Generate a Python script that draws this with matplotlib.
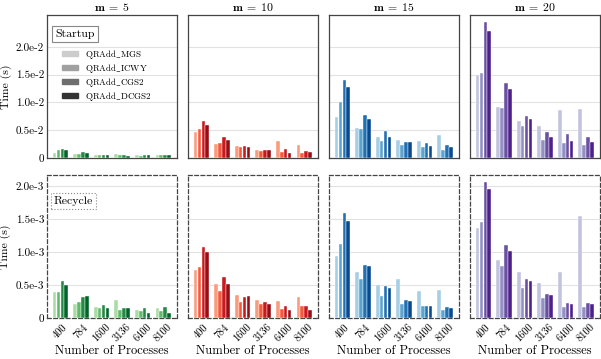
"""
Startup vs recycle timings of the QRAdd variants, one column per m.
"""

import matplotlib

matplotlib.use("Agg")
import matplotlib.pyplot as plt
import numpy as np

plt.rcParams["font.family"] = ["cmr10", "DejaVu Serif"]
plt.rcParams["mathtext.fontset"] = "cm"
plt.rcParams["axes.unicode_minus"] = False

# ---- data ----
procs = ["400", "784", "1600", "3136", "6400", "8100"]
m_values = [5, 10, 15, 20]
methods = ["QRAdd$\\_$MGS", "QRAdd$\\_$ICWY", "QRAdd$\\_$CGS2", "QRAdd$\\_$DCGS2"]

# startup times (s), rows = method, cols = process count
startup_m5 = [
    [0.0010, 0.0007, 0.0005, 0.0008, 0.0005, 0.0006],
    [0.0014, 0.0008, 0.0005, 0.0006, 0.0004, 0.0005],
    [0.0017, 0.0011, 0.0006, 0.0006, 0.0005, 0.0005],
    [0.0014, 0.0009, 0.0006, 0.0004, 0.0005, 0.0006],
]
startup_m10 = [
    [0.0046, 0.0025, 0.0022, 0.0015, 0.0030, 0.0023],
    [0.0052, 0.0027, 0.0019, 0.0013, 0.0011, 0.0010],
    [0.0067, 0.0037, 0.0022, 0.0015, 0.0016, 0.0012],
    [0.0060, 0.0033, 0.0019, 0.0015, 0.0010, 0.0011],
]
startup_m15 = [
    [0.0074, 0.0054, 0.0037, 0.0032, 0.0031, 0.0042],
    [0.0100, 0.0053, 0.0030, 0.0023, 0.0019, 0.0015],
    [0.0140, 0.0078, 0.0049, 0.0029, 0.0027, 0.0023],
    [0.0128, 0.0070, 0.0037, 0.0029, 0.0021, 0.0019],
]
startup_m20 = [
    [0.0149, 0.0091, 0.0067, 0.0058, 0.0086, 0.0088],
    [0.0153, 0.0090, 0.0057, 0.0033, 0.0027, 0.0024],
    [0.0244, 0.0135, 0.0076, 0.0047, 0.0043, 0.0038],
    [0.0229, 0.0124, 0.0070, 0.0038, 0.0031, 0.0029],
]

# recycle times (s)
recycle_m5 = [
    [0.00039, 0.00021, 0.00017, 0.00028, 0.00013, 0.00016],
    [0.00039, 0.00025, 0.00015, 0.00013, 0.00010, 0.00011],
    [0.00056, 0.00032, 0.00020, 0.00015, 0.00016, 0.00017],
    [0.00050, 0.00033, 0.00016, 0.00016, 0.00008, 0.00008],
]
recycle_m10 = [
    [0.00073, 0.00051, 0.00035, 0.00027, 0.00026, 0.00032],
    [0.00078, 0.00041, 0.00024, 0.00021, 0.00014, 0.00018],
    [0.00108, 0.00062, 0.00032, 0.00024, 0.00018, 0.00019],
    [0.00101, 0.00052, 0.00034, 0.00021, 0.00013, 0.00012],
]
recycle_m15 = [
    [0.00094, 0.00070, 0.00050, 0.00060, 0.00041, 0.00042],
    [0.00113, 0.00060, 0.00034, 0.00022, 0.00019, 0.00013],
    [0.00160, 0.00081, 0.00048, 0.00028, 0.00018, 0.00017],
    [0.00148, 0.00079, 0.00046, 0.00026, 0.00018, 0.00015],
]
recycle_m20 = [
    [0.00136, 0.00088, 0.00070, 0.00053, 0.00070, 0.00155],
    [0.00146, 0.00079, 0.00045, 0.00030, 0.00017, 0.00017],
    [0.00206, 0.00111, 0.00059, 0.00037, 0.00023, 0.00023],
    [0.00196, 0.00102, 0.00056, 0.00035, 0.00021, 0.00021],
]

startup = [startup_m5, startup_m10, startup_m15, startup_m20]
recycle = [recycle_m5, recycle_m10, recycle_m15, recycle_m20]

startup_ticks = [0, 0.005, 0.010, 0.015, 0.020]
startup_ticklabels = ["0", "0.5e-2", "1.0e-2", "1.5e-2", "2.0e-2"]
recycle_ticks = [0, 0.0005, 0.0010, 0.0015, 0.0020]
recycle_ticklabels = ["0", "0.5e-3", "1.0e-3", "1.5e-3", "2.0e-3"]

CMAPS = ["Greens", "Reds", "Blues", "Purples"]
SHADES = [0.35, 0.55, 0.75, 0.9]
LEGEND_GRAYS = ["#cccccc", "#a0a0a0", "#6e6e6e", "#333333"]
SPINE_COLOR = "#444444"
BAR_W = 0.18
BAR_STEP = 0.19


def draw_bars(ax, values, cmap_name):
    cmap = plt.get_cmap(cmap_name)
    x = np.arange(len(procs))
    for k, row in enumerate(values):
        offset = (k - 1.5) * BAR_STEP
        ax.bar(x + offset, row, width=BAR_W, color=cmap(SHADES[k]),
               edgecolor="white", linewidth=0.3, zorder=3)
    ax.set_xticks(x)


def style_axes(ax, linestyle):
    ax.grid(axis="y", color="#e2e2e2", linewidth=0.8, zorder=0)
    ax.set_axisbelow(True)
    ax.tick_params(length=0, labelsize=8, pad=2)
    for sp in ax.spines.values():
        sp.set_color(SPINE_COLOR)
        sp.set_linewidth(0.9)
        sp.set_linestyle(linestyle)


fig, axes = plt.subplots(2, 4, figsize=(6.01, 3.59), dpi=100, sharey="row")
fig.subplots_adjust(left=0.078, right=0.998, top=0.958, bottom=0.114,
                    wspace=0.085, hspace=0.119)

for j, m in enumerate(m_values):
    ax_top = axes[0, j]
    ax_bot = axes[1, j]

    draw_bars(ax_top, startup[j], CMAPS[j])
    style_axes(ax_top, "-")
    ax_top.set_xticklabels([])
    ax_top.set_title(rf"$\mathbf{{m\;=\;{m}}}$", fontsize=8.5, pad=3)
    ax_top.set_ylim(0, 0.0257)
    ax_top.set_yticks(startup_ticks)
    ax_top.set_yticklabels(startup_ticklabels)

    draw_bars(ax_bot, recycle[j], CMAPS[j])
    style_axes(ax_bot, (0, (3, 2)))
    ax_bot.set_xticklabels(procs, rotation=45, fontsize=7.5)
    ax_bot.tick_params(axis="x", pad=3)
    ax_bot.set_ylim(0, 0.00217)
    ax_bot.set_yticks(recycle_ticks)
    ax_bot.set_yticklabels(recycle_ticklabels)
    ax_bot.set_xlabel("Number of Processes", fontsize=9, labelpad=1)

for ax in axes[:, 0]:
    ax.set_ylabel("Time (s)", fontsize=8.5, labelpad=3)

# panel tags
axes[0, 0].text(0.065, 0.865, "Startup", transform=axes[0, 0].transAxes,
                fontsize=8.5, va="center", ha="left", zorder=5,
                bbox=dict(boxstyle="square,pad=0.25", fc="white", ec="#888888", lw=0.8))
axes[1, 0].text(0.055, 0.818, "Recycle", transform=axes[1, 0].transAxes,
                fontsize=8.5, va="center", ha="left", zorder=5,
                bbox=dict(boxstyle="square,pad=0.25", fc="white", ec="#888888",
                          lw=0.8, ls=":"))

# gray legend for the method shades
handles = [plt.Rectangle((0, 0), 1, 1, color=c) for c in LEGEND_GRAYS]
axes[0, 0].legend(handles, methods, loc="upper left", bbox_to_anchor=(0.12, 0.77),
                  frameon=False, fontsize=6.5, borderpad=0, borderaxespad=0,
                  handlelength=1.7, handleheight=0.45, labelspacing=0.1,
                  handletextpad=0.8)

fig.savefig("out.png", dpi=100)
